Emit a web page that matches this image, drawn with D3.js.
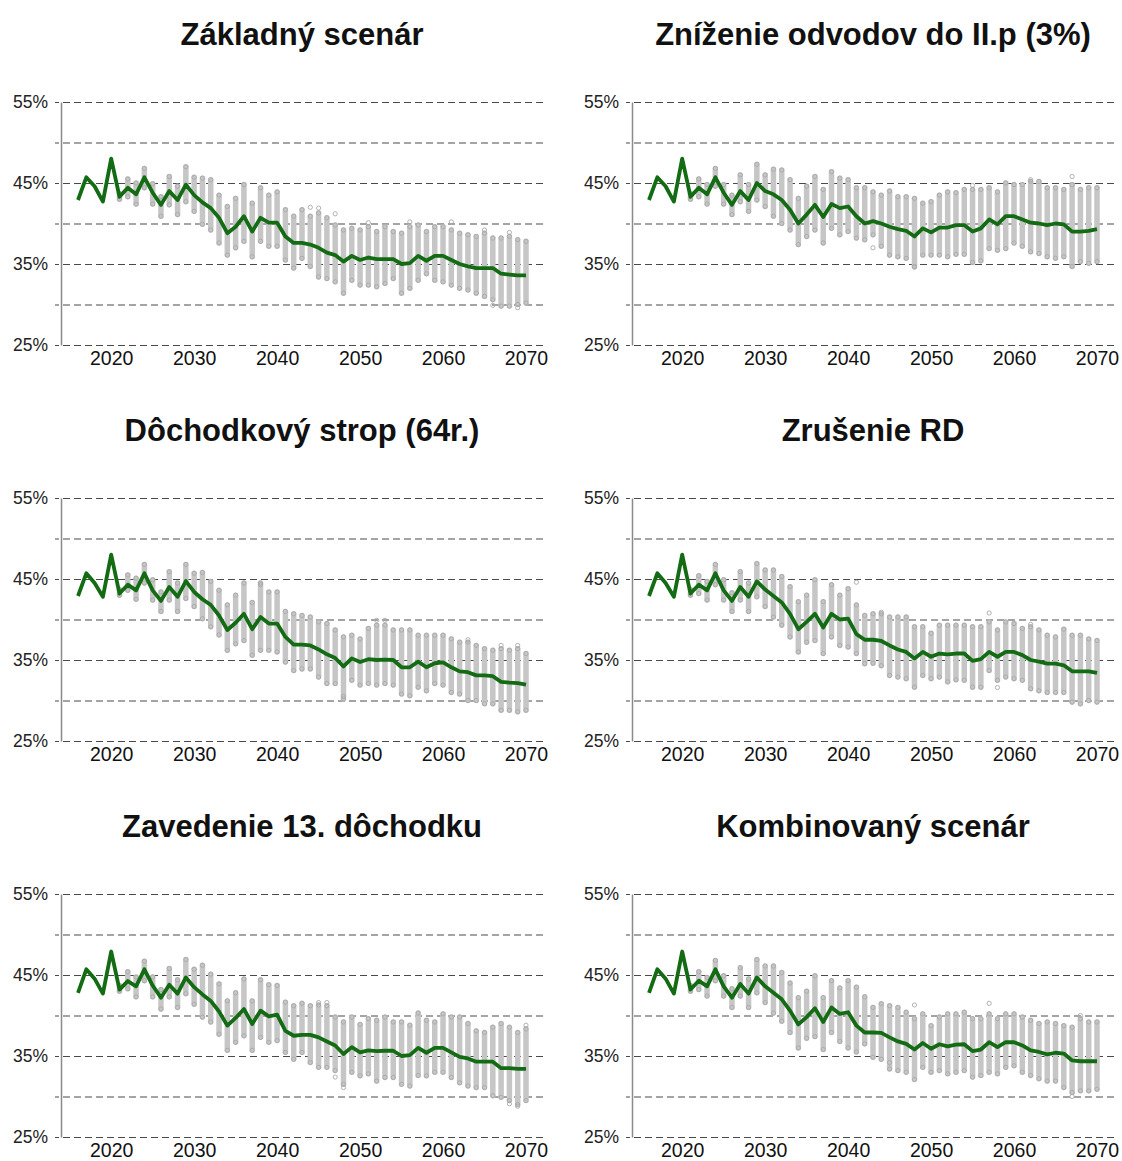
<!DOCTYPE html>
<html>
<head>
<meta charset="utf-8">
<script src="https://cdn.jsdelivr.net/npm/d3@7"></script>
<style>
  body { margin: 0; background: #fff; }
  svg text { font-family: "Liberation Sans", Arial, sans-serif; }
</style>
</head>
<body>
<svg id="chart" width="1122" height="1161"></svg>
<script>
// years 2016..2070, one value per year; null = no spread yet
const years = d3.range(2016, 2071);
const tickYears = [2020, 2030, 2040, 2050, 2060, 2070];
const yTicks = [25, 35, 45, 55];
const yGrid = [25, 30, 35, 40, 45, 50, 55];

const titles = [
  "Základný scenár",
  "Zníženie odvodov do II.p (3%)",
  "Dôchodkový strop (64r.)",
  "Zrušenie RD",
  "Zavedenie 13. dôchodku",
  "Kombinovaný scenár"
];

// --- Základný scenár
const med1 = [42.9,45.7,44.6,42.7,48.0,43.3,44.4,43.6,45.7,43.8, 42.3,44.0,42.9,44.8,43.5,42.6,41.9,40.7,38.8,39.6,
  40.9,39.0,40.7,40.1,40.1,38.4,37.6,37.6,37.4,37.0, 36.4,36.1,35.3,36.0,35.5,35.8,35.6,35.6,35.6,35.0,
  35.1,36.0,35.4,36.0,36.0,35.5,35.0,34.7,34.5,34.5, 34.5,33.8,33.7,33.6,33.6];
const lo1 = [null,null,null,null,null,43.0, 43.3,42.4,44.4,42.4,40.9,42.3,41.1,42.7,41.5,39.9,
  39.2,37.6,36.1,37.0,37.8,35.9,37.8,37.2,37.2,35.5, 34.5,35.7,34.7,33.4,33.2,32.8,31.4,33.0,32.4,32.4,
  32.2,32.6,33.2,31.4,32.0,33.0,33.8,33.0,32.8,32.4, 32.0,31.8,31.4,31.0,30.6,29.8,29.8,30.0,30.2];
const hi1 = [null,null,null,null,null,43.7, 45.5,45.0,46.8,44.9,43.3,45.8,44.6,47.0,45.7,45.6,
  45.4,43.5,42.1,43.1,44.8,42.5,44.4,43.5,43.9,41.7, 40.9,41.7,40.9,41.3,40.7,39.8,39.2,39.4,39.2,39.6,
  39.0,39.6,39.0,38.8,39.6,39.8,39.0,39.6,39.6,39.2, 38.8,38.6,38.4,38.8,38.2,38.2,38.4,38.0,37.8];
const out1 = [[2044,42.0],[2045,41.9],[2047,41.2],[2051,40.1],[2056,40.2],[2061,40.2],[2065,39.2],[2068,38.9],[2066,29.9],[2069,29.6]];

// --- Zníženie odvodov do II.p (3%)
const med2 = [42.9,45.7,44.6,42.7,48.0,43.3,44.4,43.6,45.7,43.8, 42.3,44.0,42.9,45.0,44.0,43.6,42.9,41.7,40.0,41.1,
  42.3,40.8,42.4,41.9,42.1,40.9,40.0,40.3,40.0,39.6, 39.3,39.1,38.4,39.4,38.9,39.5,39.5,39.8,39.8,39.0,
  39.4,40.5,39.9,40.9,40.9,40.5,40.1,40.0,39.8,40.0, 39.9,39.0,39.0,39.1,39.3];
const lo2 = [null,null,null,null,null,43.0, 43.3,42.4,44.6,42.4,41.1,42.7,41.5,42.9,42.1,40.9,
  40.0,39.2,37.4,38.4,39.2,37.6,39.4,38.6,39.0,38.2, 38.0,38.6,37.2,36.1,35.9,35.7,34.7,36.1,36.1,36.1,
  35.9,36.2,36.2,35.2,35.4,36.9,36.7,36.9,37.6,37.2, 36.5,36.3,35.9,35.7,35.9,34.7,35.3,35.1,35.3];
const hi2 = [null,null,null,null,null,43.7, 45.5,44.8,46.8,44.8,43.5,46.0,44.8,47.3,46.0,46.7,
  46.6,45.4,43.1,44.6,45.8,44.2,46.4,45.6,45.4,44.4, 44.4,43.9,43.5,44.0,43.3,43.3,43.1,42.5,42.7,43.5,
  43.9,43.8,44.2,44.2,44.2,44.4,43.9,45.0,44.8,44.8, 45.2,45.2,44.4,44.4,44.2,44.8,44.2,44.4,44.4];
const out2 = [[2067,45.8],[2048,34.6],[2043,37.0],[2055,44.7],[2062,45.4]];

// --- Dôchodkový strop (64r.)
const med3 = [42.9,45.7,44.5,42.8,48.0,43.2,44.3,43.6,45.7,43.6, 42.3,44.0,42.8,44.75,43.4,42.5,41.8,40.5,38.7,39.6,
  40.7,38.8,40.3,39.5,39.5,37.85,36.9,36.9,36.8,36.3, 35.7,35.25,34.2,35.2,34.75,35.1,35.0,35.05,35.0,34.1,
  34.1,34.8,34.1,34.6,34.7,34.1,33.6,33.5,33.1,33.1, 33.0,32.3,32.2,32.15,31.95];
const lo3 = [null,null,null,null,null,43.0, 43.6,42.5,44.5,42.4,41.0,42.4,41.0,42.6,41.6,40.1,
  39.1,38.1,36.2,37.0,37.4,35.6,36.2,36.2,36.0,34.75, 33.7,33.9,33.9,32.9,32.1,32.1,30.2,32.5,31.9,32.1,
  31.9,32.1,31.9,30.8,30.6,31.65,31.2,32.1,31.9,31.0, 30.8,30.0,30.0,29.6,29.6,28.8,28.8,28.6,28.8];
const hi3 = [null,null,null,null,null,43.7, 45.5,45.1,46.8,44.9,43.4,45.9,44.5,46.8,45.7,45.8,
  44.7,43.6,41.8,43.0,44.5,42.1,44.5,43.4,43.4,41.0, 40.7,40.5,40.3,39.7,39.5,38.7,37.85,38.05,37.6,38.9,
  39.3,39.3,38.7,38.7,38.7,38.05,38.05,38.05,38.05,37.6, 37.2,37.2,36.8,36.4,36.2,36.4,36.2,36.4,35.8];
const out3 = [[2038,44.3],[2048,30.5],[2052,39.9],[2053,39.9],[2063,37.5],[2067,36.8],[2069,36.8]];

// --- Zrušenie RD
const med4 = [42.9,45.7,44.5,42.8,48.0,43.2,44.3,43.6,45.7,43.6, 42.3,44.0,42.8,44.7,43.7,42.9,42.1,40.7,38.8,39.7,
  40.7,39.0,40.7,40.0,40.1,38.2,37.5,37.5,37.35,36.8, 36.3,36.0,35.2,36.0,35.4,35.8,35.7,35.8,35.8,34.9,
  35.1,36.0,35.4,36.0,36.0,35.6,35.0,34.8,34.55,34.55, 34.35,33.6,33.6,33.6,33.4];
const lo4 = [null,null,null,null,null,43.0, 43.2,42.4,44.3,42.4,41.0,42.4,41.0,42.8,41.6,40.3,
  39.3,37.85,36.0,37.2,37.4,35.8,37.85,36.8,36.6,35.8, 34.55,34.6,34.3,33.1,32.9,32.7,31.65,33.1,32.7,32.9,
  32.3,32.55,32.5,31.65,31.65,33.7,32.5,32.9,32.7,32.5, 31.45,31.2,31.0,31.0,31.0,29.8,29.6,30.0,29.8];
const hi4 = [null,null,null,null,null,43.7, 45.4,44.7,46.8,44.9,43.3,45.9,44.5,46.9,46.1,46.1,
  45.3,44.05,42.2,43.0,44.9,42.2,44.3,43.0,43.8,41.8, 40.5,40.7,40.7,40.3,40.3,40.3,39.1,39.1,38.3,39.3,
  39.3,39.3,39.3,39.1,39.1,39.7,38.7,39.7,39.5,38.9, 39.1,38.7,38.05,37.85,38.8,38.05,38.05,37.6,37.4];
const out4 = [[2057,40.8],[2058,31.6],[2062,39.4],[2041,44.6],[2044,40.9]];

// --- Zavedenie 13. dôchodku
const med5 = [42.8,45.7,44.55,42.7,47.9,43.2,44.25,43.6,45.7,43.7, 42.2,43.8,42.7,44.7,43.5,42.6,41.8,40.5,38.75,39.7,
  40.8,38.95,40.6,39.9,40.1,38.1,37.5,37.6,37.6,37.3, 36.8,36.3,35.25,36.1,35.45,35.7,35.6,35.65,35.65,35.0,
  35.1,36.0,35.4,36.0,36.0,35.45,34.9,34.7,34.3,34.3, 34.3,33.5,33.5,33.4,33.4];
const lo5 = [null,null,null,null,null,43.0, 43.3,42.3,44.3,42.3,40.8,42.3,41.0,42.7,41.4,39.8,
  39.2,37.7,35.7,36.7,37.5,35.7,37.3,36.7,36.9,35.45, 34.6,35.45,34.2,33.6,33.6,33.2,31.5,33.0,32.55,32.8,
  31.9,32.35,32.35,31.5,31.3,32.6,32.55,33.0,33.0,32.35, 31.7,31.3,31.1,31.1,30.1,29.9,29.5,29.0,29.5];
const hi5 = [null,null,null,null,null,43.7, 45.4,44.75,46.7,44.75,43.2,45.8,44.4,46.9,45.7,46.2,
  45.1,43.9,41.8,42.8,44.5,41.8,44.4,43.8,43.7,41.65, 41.2,41.5,41.2,41.3,41.2,39.8,39.2,39.8,38.9,39.6,
  39.4,39.8,39.2,39.2,38.8,40.3,39.4,39.2,40.2,39.8, 39.8,39.0,38.1,37.9,38.55,39.0,38.55,37.9,38.35];
const out5 = [[2047,32.4],[2048,31.1],[2068,29.1],[2069,28.8],[2046,41.6],[2045,41.6],[2070,38.8]];

// --- Kombinovaný scenár
const med6 = [42.8,45.7,44.55,42.7,47.9,43.2,44.3,43.6,45.7,43.6, 42.2,43.9,42.7,44.7,43.6,42.8,42.0,40.6,38.9,39.8,
  40.9,39.2,41.0,40.2,40.4,38.75,37.9,37.9,37.85,37.3, 36.8,36.5,35.8,36.6,35.9,36.45,36.2,36.4,36.45,35.6,
  35.8,36.7,36.1,36.7,36.7,36.3,35.7,35.5,35.2,35.4, 35.3,34.45,34.35,34.35,34.35];
const lo6 = [null,null,null,null,null,43.0, 43.2,42.4,44.3,42.4,41.0,42.4,41.0,42.8,41.6,40.3,
  39.3,37.9,36.0,37.2,37.4,35.8,37.9,36.8,36.0,35.5, 36.5,34.85,34.6,33.4,33.2,33.0,32.1,33.6,33.0,33.2,
  32.8,33.0,33.2,32.4,32.6,33.0,32.8,33.6,33.8,33.0, 32.6,32.2,31.9,31.9,31.1,30.5,30.7,30.7,30.9];
const hi6 = [null,null,null,null,null,43.7, 45.4,44.7,46.8,44.9,43.3,45.9,44.5,46.9,46.1,46.1,
  45.3,44.0,42.2,43.0,44.9,42.2,44.3,43.4,44.3,43.5, 42.3,41.0,41.45,41.2,41.0,40.4,39.6,40.2,38.75,39.8,
  40.2,40.2,40.4,39.6,39.6,40.2,39.6,40.2,40.2,39.8, 39.4,39.0,39.2,39.0,38.75,38.55,39.6,39.2,39.2];
const out6 = [[2057,41.5],[2067,30.0],[2045,34.2],[2048,41.3],[2068,40.0]];

const panels = [
  { title: titles[0], med: med1, lo: lo1, hi: hi1, out: out1 },
  { title: titles[1], med: med2, lo: lo2, hi: hi2, out: out2 },
  { title: titles[2], med: med3, lo: lo3, hi: hi3, out: out3 },
  { title: titles[3], med: med4, lo: lo4, hi: hi4, out: out4 },
  { title: titles[4], med: med5, lo: lo5, hi: hi5, out: out5 },
  { title: titles[5], med: med6, lo: lo6, hi: hi6, out: out6 }
];

const svg = d3.select("#chart");
const colX = [0, 571];
const rowY = [0, 396, 792];

panels.forEach((p, i) => {
  const ox = colX[i % 2];
  const oy = rowY[Math.floor(i / 2)];
  const g = svg.append("g");

  const x = d3.scaleLinear().domain([2016, 2070]).range([78 + ox, 526 + ox]);
  const y = d3.scaleLinear().domain([25, 55]).range([345 + oy, 102 + oy]);

  // title
  g.append("text")
    .attr("x", 302 + ox)
    .attr("y", 45 + oy)
    .attr("text-anchor", "middle")
    .attr("font-size", 31)
    .attr("font-weight", "bold")
    .attr("fill", "#111")
    .text(p.title);

  // dashed grid
  const grid = g.append("g")
    .attr("transform", `translate(${543 + ox},0)`)
    .call(d3.axisLeft(y).tickValues(yGrid).tickSize(543 - 55).tickFormat(""));
  grid.select(".domain").remove();
  grid.selectAll("line")
    .attr("stroke", "#4a4a4a")
    .attr("stroke-width", 1.1)
    .attr("stroke-dasharray", "7,4");

  // y axis
  const ya = g.append("g")
    .attr("transform", `translate(${61 + ox},0)`)
    .call(d3.axisLeft(y).tickValues(yTicks).tickSize(0).tickSizeOuter(0).tickPadding(13)
      .tickFormat(d => d + "%"));
  ya.select(".domain").attr("stroke", "#8a8a8a").attr("stroke-width", 1.5);
  ya.selectAll("text")
    .attr("font-family", '"Liberation Sans", Arial, sans-serif')
    .attr("font-size", 17.5)
    .attr("fill", "#222");

  // x axis labels
  const xa = g.append("g")
    .attr("transform", `translate(0,${345 + oy})`)
    .call(d3.axisBottom(x).tickValues(tickYears).tickSize(0).tickPadding(6)
      .tickFormat(d3.format("d")));
  xa.select(".domain").remove();
  xa.selectAll("text")
    .attr("font-family", '"Liberation Sans", Arial, sans-serif')
    .attr("font-size", 19.5)
    .attr("fill", "#111");

  // spread bars
  const rows = years.map((yr, k) => ({ yr, lo: p.lo[k], hi: p.hi[k] }))
    .filter(d => d.lo != null && d.hi != null);

  g.append("g").selectAll("line")
    .data(rows)
    .join("line")
    .attr("x1", d => x(d.yr))
    .attr("x2", d => x(d.yr))
    .attr("y1", d => y(d.lo))
    .attr("y2", d => y(d.hi))
    .attr("stroke", "#c6c6c6")
    .attr("stroke-width", 5.5)
    .attr("stroke-linecap", "round");

  // end circles + detached outliers
  const pts = [];
  rows.forEach(d => { pts.push([d.yr, d.lo]); pts.push([d.yr, d.hi]); });
  p.out.forEach(o => pts.push(o));
  g.append("g").selectAll("circle")
    .data(pts)
    .join("circle")
    .attr("cx", d => x(d[0]))
    .attr("cy", d => y(d[1]))
    .attr("r", 2.1)
    .attr("fill", "none")
    .attr("stroke", "#a8a8a8")
    .attr("stroke-width", 0.9);

  // median line
  const line = d3.line()
    .x((d, k) => x(years[k]))
    .y(d => y(d));
  g.append("path")
    .datum(p.med)
    .attr("d", line)
    .attr("fill", "none")
    .attr("stroke", "#136b13")
    .attr("stroke-width", 3.8)
    .attr("stroke-linejoin", "round");
});
</script>
</body>
</html>
